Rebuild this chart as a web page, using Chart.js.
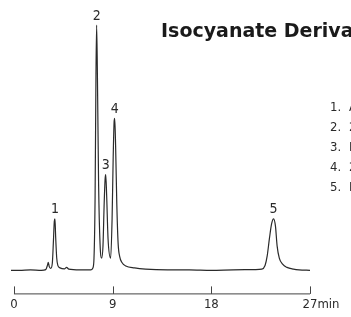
<!DOCTYPE html>
<html>
<head>
<meta charset="utf-8">
<script src="https://cdn.jsdelivr.net/npm/chart.js@4/dist/chart.umd.min.js"></script>
<style>
  html, body { margin: 0; padding: 0; background: #fff; }
  #wrap { width: 351px; height: 317px; position: relative; }
</style>
</head>
<body>
<div id="wrap"><canvas id="chart"></canvas></div>
<script>
// retention time (min) and detector response (relative, tallest peak = 100)
const times = [
  -0.27, 0.5, 1.5, 2.5, 2.9, 3.05, 3.13, 3.22, 3.35, 3.5, 3.6, 3.68, 3.74, 3.8, 3.9, 4.0, 4.2,
  4.6, 4.8, 5.0, 6.0, 7.0, 7.2, 7.3, 7.4, 7.48, 7.54, 7.61, 7.72, 7.85, 8.0,
  8.12, 8.22, 8.31, 8.37, 8.45, 8.58, 8.82, 8.95, 9.05, 9.14, 9.19, 9.27, 9.38, 9.5,
  9.65, 9.85, 10.2, 11.0, 12.0, 14.0, 16.0, 18.0, 20.0, 22.0, 22.6, 22.9, 23.1, 23.3,
  23.5, 23.68, 23.85, 24.0, 24.2, 24.5, 24.9, 25.5, 26.0, 27.0
];
const signal = [
  0, 0, 0.2, 0, 0.3, 2, 3.3, 1.5, 0.8, 3, 12, 20, 21, 14, 5, 2, 1,
  0.6, 1.2, 0.5, 0.2, 0.2, 1, 5, 30, 80, 100, 80, 35, 11, 5,
  10, 26, 37, 39, 31, 13, 5, 21, 46, 61, 62, 51, 27, 11,
  5.5, 3.2, 1.8, 1, 0.5, 0.2, 0.2, 0, 0.2, 0.3, 0.5, 2, 6, 13,
  19, 21, 18, 10, 5, 2.5, 1.2, 0.5, 0.2, 0
];
const peakTimes = [3.74, 7.54, 8.37, 9.19, 23.68];
const peakLabels = ['1', '2', '3', '4', '5'];
const compoundNumbers = ['1.', '2.', '3.', '4.', '5.'];
const compoundNames = ['Acetonitrile', '2,6-TDI', 'HDI', '2,4-TDI', 'MDI'];
const xTicks = [0, 9, 18, 27];
const title = 'Isocyanate Derivatives';

const ink = '#2a2a2a';
const labelFont = '"DejaVu Sans Condensed", sans-serif';

const annotate = {
  id: 'annotate',
  afterDraw(chart) {
    const ctx = chart.ctx;
    const x = chart.scales.x;
    const y = chart.scales.y;
    const base = chart.chartArea.bottom;
    ctx.save();
    // axis line with upward tick marks
    ctx.strokeStyle = '#444';
    ctx.lineWidth = 1;
    ctx.beginPath();
    ctx.moveTo(x.getPixelForValue(xTicks[0]), base + 0.5);
    ctx.lineTo(x.getPixelForValue(xTicks[xTicks.length - 1]), base + 0.5);
    xTicks.forEach(t => {
      const px = Math.round(x.getPixelForValue(t)) + 0.5;
      ctx.moveTo(px, base + 0.5);
      ctx.lineTo(px, base - 7);
    });
    ctx.stroke();
    // unit after last tick
    ctx.fillStyle = ink;
    ctx.font = '13px ' + labelFont;
    ctx.textBaseline = 'middle';
    ctx.textAlign = 'left';
    const lastPx = x.getPixelForValue(xTicks[xTicks.length - 1]);
    ctx.fillText('min', lastPx + ctx.measureText('27').width / 2, base + 11);
    // peak numbers
    ctx.font = '14px ' + labelFont;
    ctx.textAlign = 'center';
    ctx.textBaseline = 'bottom';
    peakTimes.forEach((t, i) => {
      const v = signal[times.indexOf(t)];
      ctx.fillText(peakLabels[i], x.getPixelForValue(t), y.getPixelForValue(v) - 2);
    });
    // title
    ctx.fillStyle = '#1a1a1a';
    ctx.font = 'bold 19px "DejaVu Sans", sans-serif';
    ctx.textAlign = 'left';
    ctx.textBaseline = 'alphabetic';
    ctx.fillText(title, 161, 37);
    // compound list
    ctx.fillStyle = ink;
    ctx.font = '13px ' + labelFont;
    ctx.textBaseline = 'middle';
    compoundNumbers.forEach((n, i) => {
      ctx.fillText(n, 330, 108 + i * 20);
      ctx.fillText(compoundNames[i], 349, 108 + i * 20);
    });
    ctx.restore();
  }
};

new Chart(document.getElementById('chart'), {
  type: 'line',
  data: {
    datasets: [{
      data: times.map((t, i) => ({ x: t, y: signal[i] })),
      borderColor: ink,
      borderWidth: 1.2,
      pointRadius: 0,
      fill: false,
      cubicInterpolationMode: 'monotone'
    }]
  },
  options: {
    responsive: true,
    maintainAspectRatio: false,
    animation: false,
    layout: { padding: { left: 11, right: 41, top: 0, bottom: 2 } },
    plugins: { legend: { display: false }, tooltip: { enabled: false }, title: { display: false } },
    scales: {
      x: {
        type: 'linear',
        min: -0.27,
        max: 27,
        afterBuildTicks: s => { s.ticks = xTicks.map(v => ({ value: v })); },
        grid: { display: false, drawTicks: false },
        border: { display: false },
        ticks: {
          padding: 3,
          color: ink,
          font: { family: labelFont, size: 13 },
          maxRotation: 0,
          autoSkip: false
        }
      },
      y: {
        display: false,
        min: -9.4,
        max: 110.2
      }
    }
  },
  plugins: [annotate]
});
</script>
</body>
</html>
